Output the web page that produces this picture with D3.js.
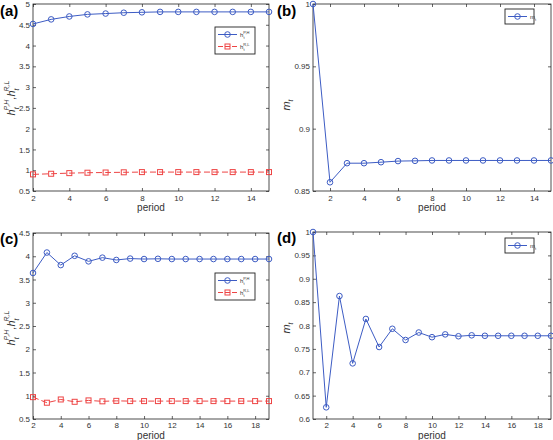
<!DOCTYPE html>
<html><head><meta charset="utf-8">
<script src="https://cdn.jsdelivr.net/npm/d3@7"></script>
<style>body{margin:0;background:#fff}svg{display:block}text{font-family:"Liberation Sans",Arial,sans-serif}</style>
</head><body>
<script>
// ---- data ----
const periodsA = [2,3,4,5,6,7,8,9,10,11,12,13,14,15];
const hPH_A = [4.52,4.63,4.70,4.75,4.77,4.79,4.80,4.81,4.81,4.81,4.81,4.81,4.81,4.81];
const hRL_A = [0.90,0.915,0.93,0.94,0.945,0.95,0.955,0.955,0.955,0.955,0.955,0.955,0.955,0.955];
const periodsB = [1,2,3,4,5,6,7,8,9,10,11,12,13,14,15];
const m_B = [1.0,0.857,0.8723,0.8723,0.8731,0.874,0.8742,0.8745,0.8745,0.8745,0.8745,0.8745,0.8745,0.8745,0.8745];
const periodsC = [2,3,4,5,6,7,8,9,10,11,12,13,14,15,16,17,18,19];
const hPH_C = [3.64,4.08,3.81,4.01,3.89,3.97,3.92,3.95,3.94,3.945,3.94,3.94,3.94,3.94,3.94,3.94,3.94,3.94];
const hRL_C = [0.97,0.85,0.92,0.87,0.90,0.88,0.89,0.885,0.885,0.885,0.885,0.885,0.885,0.885,0.885,0.885,0.885,0.885];
const periodsD = [1,2,3,4,5,6,7,8,9,10,11,12,13,14,15,16,17,18,19];
const m_D = [1.0,0.625,0.863,0.719,0.814,0.754,0.793,0.769,0.785,0.775,0.781,0.777,0.779,0.778,0.778,0.778,0.778,0.778,0.778];
const xTicksA = [2,4,6,8,10,12,14];
const xTicksC = [2,4,6,8,10,12,14,16,18];
const yTicksA = [0.5,1,1.5,2,2.5,3,3.5,4,4.5,5];
const yTicksB = [0.85,0.9,0.95,1];
const yTicksC = [0.5,1,1.5,2,2.5,3,3.5,4,4.5];
const yTicksD = [0.6,0.65,0.7,0.75,0.8,0.85,0.9,0.95,1];

const BLUE = "#3d5cc4", RED = "#ee4444";
const svg = d3.select("body").append("svg").attr("width",553).attr("height",440);

function panel(o){
  const g = svg.append("g");
  const x = d3.scaleLinear().domain(o.xd).range([o.l,o.r]);
  const y = d3.scaleLinear().domain(o.yd).range([o.b,o.t]);
  g.append("rect").attr("x",o.l).attr("y",o.t).attr("width",o.r-o.l).attr("height",o.b-o.t)
    .attr("fill","none").attr("stroke","#222").attr("stroke-width",0.8);
  const tl = 3;
  const axB = d3.axisBottom(x).tickValues(o.xt).tickSize(-tl).tickPadding(o.xPad).tickFormat(d3.format("~g"));
  const axT = d3.axisTop(x).tickValues(o.xt).tickSize(-tl).tickFormat("");
  const axL = d3.axisLeft(y).tickValues(o.yt).tickSize(-tl).tickPadding(3).tickFormat(d3.format("~g"));
  const axR = d3.axisRight(y).tickValues(o.yt).tickSize(-tl).tickFormat("");
  [[axB,`translate(0,${o.b})`],[axT,`translate(0,${o.t})`],[axL,`translate(${o.l},0)`],[axR,`translate(${o.r},0)`]].forEach(([a,t])=>{
    const s = g.append("g").attr("transform",t).call(a);
    s.select(".domain").remove();
    s.selectAll("line").attr("stroke","#222").attr("stroke-width",0.7);
    s.selectAll("text").attr("font-size",8).attr("fill","#333").attr("font-family","Liberation Sans, Arial, sans-serif");
  });
  g.append("text").attr("x",(o.l+o.r)/2).attr("y",o.b+o.xlOff).attr("text-anchor","middle")
    .attr("font-size",10).attr("fill","#333").text("period");
  g.append("text").attr("x",o.lx).attr("y",o.ly).attr("font-family","Liberation Serif, Times New Roman, serif")
    .attr("font-weight","bold").attr("font-size",15).attr("fill","#000").text(o.letter);
  o.series.forEach(s=>{
    const data = s.xs.map((v,i)=>[v,s.ys[i]]);
    g.append("path").datum(data).attr("fill","none").attr("stroke",s.color).attr("stroke-width",1)
      .attr("stroke-dasharray",s.dash||null)
      .attr("d",d3.line().x(d=>x(d[0])).y(d=>y(d[1])));
    if(s.marker==="circle"){
      g.selectAll(null).data(data).enter().append("circle").attr("cx",d=>x(d[0])).attr("cy",d=>y(d[1]))
        .attr("r",2.8).attr("fill","none").attr("stroke",s.color).attr("stroke-width",1);
    } else {
      g.selectAll(null).data(data).enter().append("rect").attr("x",d=>x(d[0])-2.5).attr("y",d=>y(d[1])-2.5)
        .attr("width",5).attr("height",5).attr("fill","none").attr("stroke",s.color).attr("stroke-width",1);
    }
  });
  return {g,x,y};
}

function legendBox(g, lx, ly, w, items){
  const h = items.length*12+3;
  g.append("rect").attr("x",lx).attr("y",ly).attr("width",w).attr("height",h)
    .attr("fill","#fff").attr("stroke","#222").attr("stroke-width",0.9);
  items.forEach((it,i)=>{
    const yy = ly+7.5+i*12;
    g.append("line").attr("x1",lx+3).attr("x2",lx+22).attr("y1",yy).attr("y2",yy)
      .attr("stroke",it.color).attr("stroke-width",1).attr("stroke-dasharray",it.dash||null);
    if(it.marker==="circle") g.append("circle").attr("cx",lx+12.5).attr("cy",yy).attr("r",2.8).attr("fill","none").attr("stroke",it.color);
    else g.append("rect").attr("x",lx+10).attr("y",yy-2.5).attr("width",5).attr("height",5).attr("fill","none").attr("stroke",it.color);
    const t = g.append("text").attr("x",lx+25).attr("y",yy+2.5).attr("font-size",6).attr("fill","#333");
    t.append("tspan").text(it.base);
    if(it.sup) t.append("tspan").attr("font-size",4).attr("dy",-3).text(it.sup);
    if(it.sub) t.append("tspan").attr("font-size",4).attr("dx",it.sup? -6:0).attr("dy",it.sup?5:2).text(it.sub);
  });
}

function hLabel(g, cx, cy){
  const t = g.append("text").attr("transform",`translate(${cx},${cy}) rotate(-90)`).attr("text-anchor","middle")
    .attr("font-family","Liberation Serif, Times New Roman, serif").attr("font-style","italic").attr("font-size",11).attr("fill","#333");
  t.append("tspan").text("h");
  t.append("tspan").attr("font-size",7).attr("dy",4).text("t");
  t.append("tspan").attr("font-size",7).attr("dx",-3).attr("dy",-10).text("P,H");
  t.append("tspan").attr("dy",6).text(",h");
  t.append("tspan").attr("font-size",7).attr("dy",4).text("t");
  t.append("tspan").attr("font-size",7).attr("dx",-3).attr("dy",-10).text("R,L");
}
function mLabel(g, cx, cy){
  const t = g.append("text").attr("transform",`translate(${cx},${cy}) rotate(-90)`).attr("text-anchor","middle")
    .attr("font-family","Liberation Serif, Times New Roman, serif").attr("font-style","italic").attr("font-size",11).attr("fill","#333");
  t.append("tspan").text("m");
  t.append("tspan").attr("font-size",7).attr("dy",3).text("t");
}

// (a)
const A = panel({l:33,r:269,t:4,b:191,xPad:4,xlOff:20,xd:[2,15],yd:[0.5,5],xt:xTicksA,yt:yTicksA,letter:"(a)",lx:0,ly:16,
  series:[{xs:periodsA,ys:hPH_A,color:BLUE,marker:"circle"},{xs:periodsA,ys:hRL_A,color:RED,marker:"square",dash:"6,3"}]});
hLabel(A.g, 15, 98);
legendBox(A.g, 215, 27, 40, [{color:BLUE,marker:"circle",base:"h",sup:"P,H",sub:"t"},{color:RED,marker:"square",dash:"5,2",base:"h",sup:"R,L",sub:"t"}]);

// (b)
const B = panel({l:313,r:551,t:4,b:191,xPad:4,xlOff:20,xd:[1,15],yd:[0.85,1],xt:xTicksA,yt:yTicksB,letter:"(b)",lx:277,ly:16,
  series:[{xs:periodsB,ys:m_B,color:BLUE,marker:"circle"}]});
mLabel(B.g, 290, 105);
legendBox(B.g, 505, 9, 29, [{color:BLUE,marker:"circle",base:"m",sub:"t"}]);

// (c)
const C = panel({l:33,r:269,t:233,b:419,xPad:3,xlOff:20,xd:[2,19],yd:[0.5,4.5],xt:xTicksC,yt:yTicksC,letter:"(c)",lx:0,ly:244,
  series:[{xs:periodsC,ys:hPH_C,color:BLUE,marker:"circle"},{xs:periodsC,ys:hRL_C,color:RED,marker:"square",dash:"6,3"}]});
hLabel(C.g, 15, 328);
legendBox(C.g, 215, 273, 40, [{color:BLUE,marker:"circle",base:"h",sup:"P,H",sub:"t"},{color:RED,marker:"square",dash:"5,2",base:"h",sup:"R,L",sub:"t"}]);

// (d)
const D = panel({l:313,r:551,t:232,b:419,xPad:3,xlOff:20,xd:[1,19],yd:[0.6,1],xt:xTicksC,yt:yTicksD,letter:"(d)",lx:277,ly:243,
  series:[{xs:periodsD,ys:m_D,color:BLUE,marker:"circle"}]});
mLabel(D.g, 290, 328);
legendBox(D.g, 505, 238, 29, [{color:BLUE,marker:"circle",base:"m",sub:"t"}]);
</script>
</body></html>
